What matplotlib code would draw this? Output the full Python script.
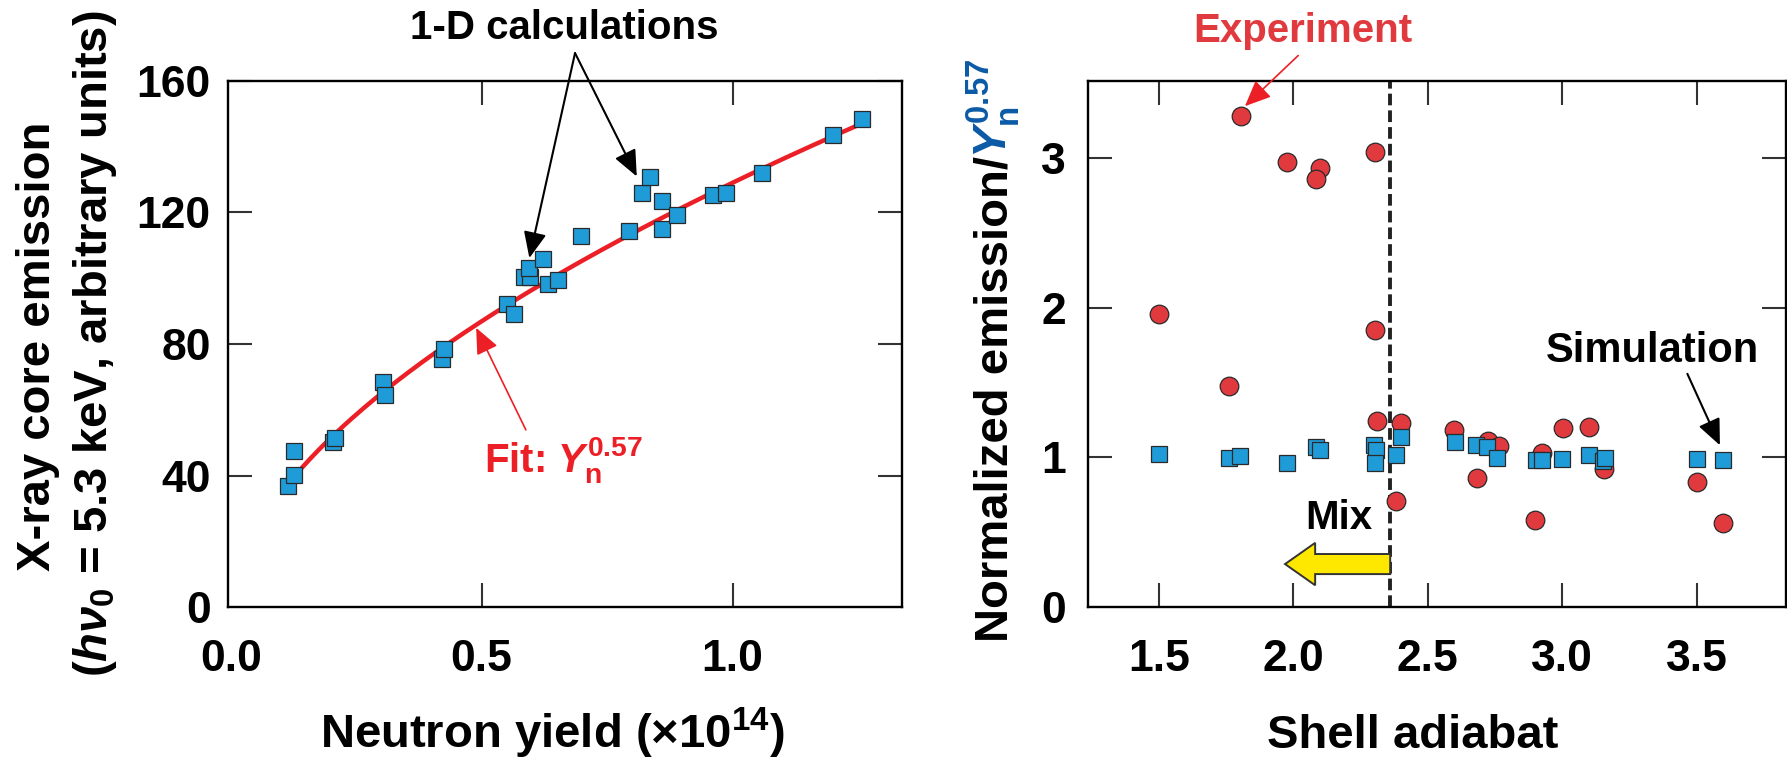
import numpy as np
import matplotlib
matplotlib.use('Agg')
import matplotlib.pyplot as plt
from matplotlib.patches import FancyArrow

# ---------------- data ----------------
# Left panel: 1-D calculations
yield_x = [0.115, 0.127, 0.127, 0.204, 0.208, 0.303, 0.307, 0.421, 0.425,
           0.550, 0.564, 0.584, 0.596, 0.594, 0.622, 0.633, 0.652, 0.698,
           0.793, 0.819, 0.836, 0.859, 0.859, 0.889, 0.960, 0.986, 1.059,
           1.200, 1.258]
emission_y = [36.7, 40.3, 47.6, 50.3, 51.5, 68.5, 64.4, 75.4, 78.4,
              92.1, 89.2, 100.3, 100.3, 103.2, 105.9, 98.2, 99.3, 112.8,
              114.2, 126.0, 130.8, 123.4, 115.0, 119.2, 125.2, 126.0, 131.9,
              143.6, 148.5]
fit_coef = 129.0
fit_exp = 0.57
fit_range = (0.141, 1.258)

left_xticks = [0.0, 0.5, 1.0]
left_xticklabels = ['0.0', '0.5', '1.0']
left_yticks = [0, 40, 80, 120, 160]
left_yticklabels = ['0', '40', '80', '120', '160']

# Right panel
sim_x = [1.500, 1.762, 1.801, 1.978, 2.083, 2.100, 2.300, 2.309, 2.302, 2.380,
         2.402, 2.600, 2.678, 2.721, 2.759, 2.902, 2.924, 3.000, 3.101, 3.151,
         3.159, 3.502, 3.598]
sim_y = [1.025, 0.995, 1.010, 0.962, 1.070, 1.050, 1.084, 1.050, 0.960, 1.016,
         1.138, 1.105, 1.081, 1.072, 0.995, 0.986, 0.986, 0.992, 1.016, 0.974,
         0.998, 0.992, 0.980]
exp_x = [1.804, 1.978, 2.098, 2.083, 2.302, 1.502, 2.302, 1.759, 2.312, 2.402,
         2.598, 2.724, 2.764, 2.683, 2.380, 2.926, 3.003, 3.100, 3.154, 2.897,
         3.502, 3.598]
exp_y = [3.28, 2.97, 2.93, 2.86, 3.04, 1.96, 1.85, 1.48, 1.24, 1.23,
         1.18, 1.11, 1.075, 0.864, 0.709, 1.03, 1.195, 1.206, 0.92, 0.584,
         0.837, 0.563]
mix_threshold = 2.36

right_xticks = [1.5, 2.0, 2.5, 3.0, 3.5]
right_xticklabels = ['1.5', '2.0', '2.5', '3.0', '3.5']
right_yticks = [0, 1, 2, 3]
right_yticklabels = ['0', '1', '2', '3']

# ---------------- style ----------------
plt.rcParams['font.family'] = ['Liberation Sans', 'DejaVu Sans']
plt.rcParams['font.weight'] = 'bold'
plt.rcParams['mathtext.fontset'] = 'custom'
plt.rcParams['mathtext.rm'] = 'Liberation Sans:bold'
plt.rcParams['mathtext.bf'] = 'Liberation Sans:bold'
plt.rcParams['mathtext.it'] = 'Liberation Sans:italic:bold'

BLUE_SQ = '#1f9bd8'
RED_C = '#e03a3f'
RED_LINE = '#ec1f26'
LABEL_BLUE = '#0b5aa6'
EDGE = '#2a2a2a'

W, H = 1787, 759
fig = plt.figure(figsize=(W / 100, H / 100), dpi=100)


def fx(p):
    return p / W


def fy(p):
    return 1 - p / H


axL = fig.add_axes([fx(227.5), fy(607.2), (902.3 - 227.5) / W, (607.2 - 80.7) / H])
axR = fig.add_axes([fx(1088), fy(607.2), (1785.7 - 1088) / W, (607.2 - 80.7) / H])

for ax in (axL, axR):
    for sp in ax.spines.values():
        sp.set_linewidth(1.7)
        sp.set_color('black')
    ax.tick_params(which='major', direction='in', length=17, width=1.5,
                   color='#333333', top=True, right=True, labelsize=32)
    ax.tick_params(axis='x', pad=23)

axL.tick_params(axis='y', pad=12)
axR.tick_params(axis='y', pad=16)

# ---------------- left panel ----------------
fx_line = np.linspace(fit_range[0], fit_range[1], 200)
axL.plot(fx_line, fit_coef * fx_line ** fit_exp, color=RED_LINE, lw=3.2,
         zorder=2, solid_capstyle='butt')
axL.plot(yield_x, emission_y, ls='none', marker='s', ms=11.5, mfc=BLUE_SQ,
         mec=EDGE, mew=0.9, zorder=3)
axL.set_xlim(-0.0064, 1.338)
axL.set_ylim(0, 160)
axL.set_xticks(left_xticks)
axL.set_xticklabels(left_xticklabels, fontweight='bold')
axL.set_yticks(left_yticks)
axL.set_yticklabels(left_yticklabels, fontweight='bold')
# ticks that sit on a spine: hide their marks
t0 = axL.xaxis.get_major_ticks()[0]
t0.tick1line.set_visible(False)
t0.tick2line.set_visible(False)
for t in (axL.yaxis.get_major_ticks()[0], axR.yaxis.get_major_ticks()[0]):
    t.tick1line.set_visible(False)
    t.tick2line.set_visible(False)

# 1-D calculations annotation
axL.text(0.357, 172.6, '1-D calculations', fontsize=29, fontweight='bold',
         ha='left', va='baseline', clip_on=False)
apex = (0.686, 168.4)
for tip in [(0.595, 106.1), (0.809, 130.9)]:
    axL.annotate('', xy=tip, xytext=apex, annotation_clip=False,
                 arrowprops=dict(arrowstyle='-|>,head_length=0.8,head_width=0.35',
                                 mutation_scale=20, color='black', lw=1.5,
                                 shrinkA=0, shrinkB=0))

# Fit label
axL.text(0.5046, 40.97, r'Fit: $Y_{\mathrm{n}}^{\mathrm{0.57}}$', fontsize=29,
         fontweight='bold', color=RED_LINE, ha='left', va='baseline')
axL.annotate('', xy=(0.489, 84.9), xytext=(0.588, 53.9),
             arrowprops=dict(arrowstyle='-|>,head_length=0.8,head_width=0.35',
                             mutation_scale=20, color=RED_LINE, lw=1.2,
                             shrinkA=0, shrinkB=0))

# ---------------- right panel ----------------
axR.axvline(mix_threshold, color='#222222', lw=2.8, ls=(0, (3.0, 1.3)), zorder=1)
axR.plot(exp_x, exp_y, ls='none', marker='o', ms=13.4, mfc=RED_C, mec=EDGE,
         mew=0.9, zorder=3)
axR.plot(sim_x, sim_y, ls='none', marker='s', ms=12, mfc=BLUE_SQ, mec=EDGE,
         mew=0.9, zorder=4)
axR.set_xlim(1.2364, 3.8306)
axR.set_ylim(0, 3.515)
axR.set_xticks(right_xticks)
axR.set_xticklabels(right_xticklabels, fontweight='bold')
axR.set_yticks(right_yticks)
axR.set_yticklabels(right_yticklabels, fontweight='bold')

# Experiment label
axR.text(1.627, 3.776, 'Experiment', fontsize=29, fontweight='bold',
         color=RED_C, ha='left', va='baseline', clip_on=False)
axR.annotate('', xy=(1.820, 3.345), xytext=(2.018, 3.683), annotation_clip=False,
             arrowprops=dict(arrowstyle='-|>,head_length=0.8,head_width=0.35',
                             mutation_scale=20, color='#ec1f26', lw=1.2,
                             shrinkA=0, shrinkB=0))

# Simulation label
axR.text(2.937, 1.638, 'Simulation', fontsize=30, fontweight='bold',
         ha='left', va='baseline')
axR.annotate('', xy=(3.586, 1.081), xytext=(3.465, 1.558),
             arrowprops=dict(arrowstyle='-|>,head_length=0.8,head_width=0.35',
                             mutation_scale=20, color='black', lw=1.5,
                             shrinkA=0, shrinkB=0))

# Mix label and yellow arrow
axR.text(2.046, 0.52, 'Mix', fontsize=29, fontweight='bold',
         ha='left', va='baseline')
arrow = FancyArrow(mix_threshold, 0.288, -(mix_threshold - 1.969), 0,
                   width=0.134, head_width=0.283, head_length=2.081 - 1.969,
                   length_includes_head=True, fc='#ffe800', ec='#333333',
                   lw=1.4, zorder=2)
axR.add_patch(arrow)

# ---------------- axis labels ----------------
fig.text(fx(50), fy(571), 'X-ray core emission', rotation=90,
         rotation_mode='anchor', ha='left', va='baseline', fontsize=34,
         fontweight='bold')
fig.text(fx(107), fy(677), r'($h\nu_0$ = 5.3 keV, arbitrary units)', rotation=90,
         rotation_mode='anchor', ha='left', va='baseline', fontsize=34,
         fontweight='bold')

fig.text(fx(552), fy(748), r'Neutron yield (×10$^{\mathrm{14}}$)', ha='center',
         va='baseline', fontsize=34, fontweight='bold')
fig.text(fx(1413), fy(748), 'Shell adiabat', ha='center', va='baseline',
         fontsize=34, fontweight='bold')

t1 = fig.text(fx(1007), fy(642), 'Normalized emission/', rotation=90,
              rotation_mode='anchor', ha='left', va='baseline', fontsize=34,
              fontweight='bold')
fig.canvas.draw()
bb = t1.get_window_extent()
fig.text(fx(1007), (bb.y1 - 2) / fig.bbox.height, r'$Y_{\mathrm{n}}^{\mathrm{0.57}}$',
         rotation=90, rotation_mode='anchor', ha='left', va='baseline',
         fontsize=34, color=LABEL_BLUE)

fig.savefig('out.png', dpi=100)
